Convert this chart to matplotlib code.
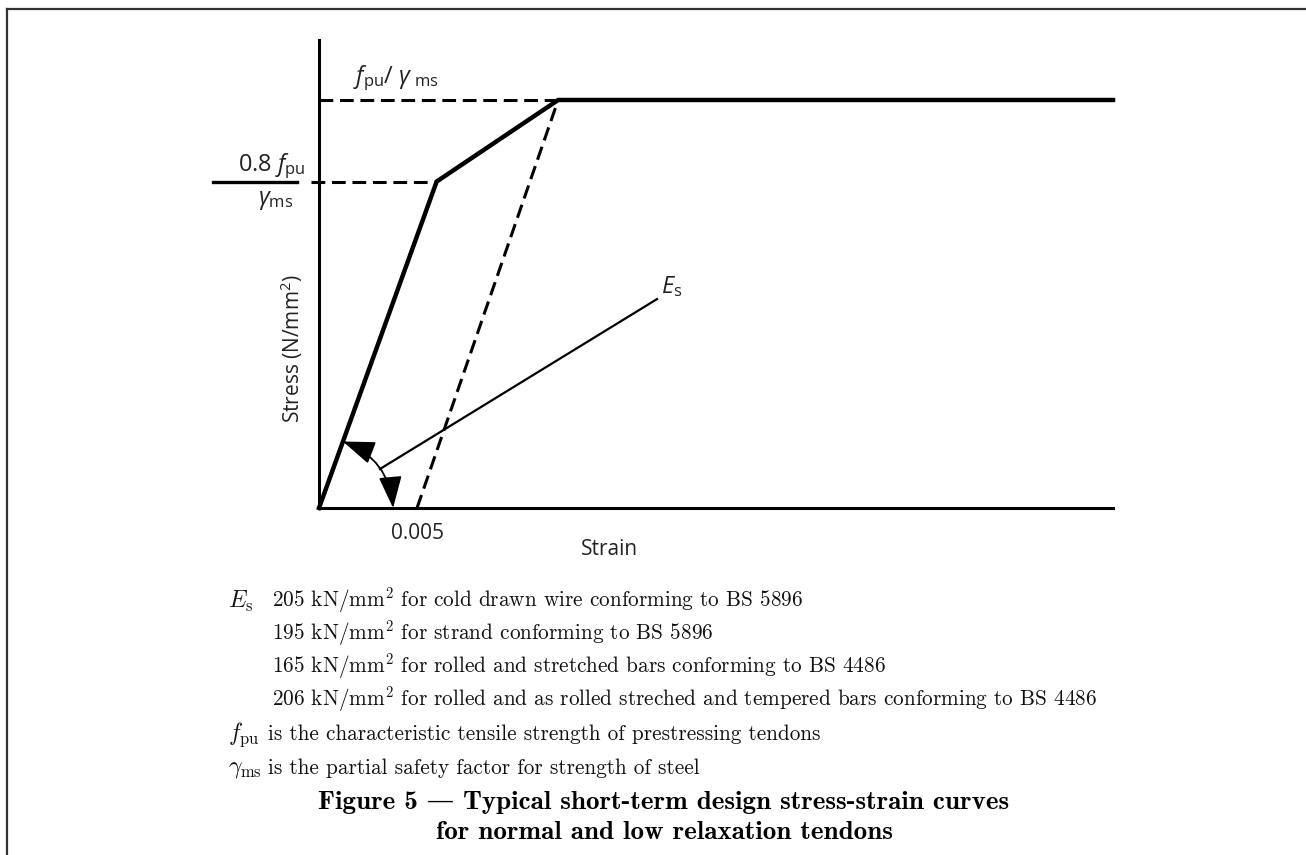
import matplotlib
matplotlib.use("Agg")
import matplotlib.pyplot as plt
from matplotlib.lines import Line2D

plt.rcParams['font.family'] = ['Open Sans', 'DejaVu Sans']
plt.rcParams['mathtext.fontset'] = 'custom'
plt.rcParams['mathtext.rm'] = 'Open Sans'
plt.rcParams['mathtext.it'] = 'Open Sans:italic'

# design curve (stress as a fraction of fpu/gamma_ms)
strain = [0.0, 0.006, 0.0122, 0.0405]
stress = [0.0, 0.8, 1.0, 1.0]
offset_strain = 0.005
knee_level = 0.8
yield_level = 1.0
# leader line for Es and the angle arrow
es_line_x = [0.00311, 0.01724]
es_line_y = [0.0956, 0.512]
arc_start = (0.00122, 0.163)
arc_end = (0.00378, 0.0)

es_notes = [
    r'205 kN/mm$^2$ for cold drawn wire conforming to BS 5896',
    r'195 kN/mm$^2$ for strand conforming to BS 5896',
    r'165 kN/mm$^2$ for rolled and stretched bars conforming to BS 4486',
    r'206 kN/mm$^2$ for rolled and as rolled streched and tempered bars conforming to BS 4486',
]
symbol_notes = [
    (r'$f_{\rm pu}$', 'is the characteristic tensile strength of prestressing tendons'),
    (r'$\gamma_{\rm ms}$', 'is the partial safety factor for strength of steel'),
]
title_lines = ['Figure 5 \u2014 Typical short-term design stress-strain curves',
               'for normal and low relaxation tendons']

W, H = 1306, 855
fig = plt.figure(figsize=(W / 100, H / 100), dpi=100)


def fx(x):
    return x / W


def fy(y):
    return 1 - y / H


ax = fig.add_axes([fx(319), fy(508), (1113 - 319) / W, (508 - 40) / H])
ax.set_xlim(0, 0.0405)
ax.set_ylim(0, 1.147)
for s in ['top', 'right']:
    ax.spines[s].set_visible(False)
for s in ['left', 'bottom']:
    ax.spines[s].set_linewidth(2.2)
ax.set_yticks([])
ax.set_xticks([offset_strain])
ax.set_xticklabels(['0.005'], fontsize=15, color='#222222')
ax.tick_params(axis='x', length=0, pad=11)
ax.set_xlabel('Strain', fontsize=15, color='#222222')
ax.xaxis.set_label_coords(0.366, -0.066)
ax.set_ylabel(r'Stress (N/mm$^2$)', fontsize=15, color='#222222')
ax.yaxis.set_label_coords(-0.0176, 0.342)

# main curve
ax.plot(strain, stress, color='black', lw=3.2, clip_on=False,
        solid_joinstyle='miter')
# offset line from 0.005
ax.plot([offset_strain, strain[2]], [0, yield_level], color='black', lw=2.2,
        dashes=(4.5, 2.2))
# level guides
ax.plot([0, strain[2]], [yield_level, yield_level], color='black', lw=2.2,
        dashes=(4.5, 2.2), clip_on=False)
ax.plot([-0.0004, strain[1]], [knee_level, knee_level], color='black', lw=2.2,
        dashes=(4.5, 2.2), clip_on=False)

# Es leader and angle arrow
ax.plot(es_line_x, es_line_y, color='black', lw=1.6)
ax.annotate('', xy=arc_end, xytext=arc_start,
            arrowprops=dict(arrowstyle='<|-|>,head_length=1.1,head_width=0.4',
                            connectionstyle='arc3,rad=-0.31', color='black',
                            lw=1.3, mutation_scale=18, shrinkA=0, shrinkB=0))
ax.text(es_line_x[1] + 0.0002, es_line_y[1] + 0.015, r'$E_{\rm s}$', fontsize=17,
        color='#222222', va='baseline', ha='left')

# labels on the stress axis
ax.text(0.00175, 1.042, r'$f_{\rm pu}$/ $\gamma_{\ \rm ms}$', fontsize=17,
        color='#222222', ha='left', va='baseline')
ax.plot([-0.0054, -0.0011], [knee_level, knee_level], color='black', lw=2.4,
        clip_on=False)
ax.annotate(r'0.8 $f_{\rm pu}$', xy=(-0.0007, knee_level), xytext=(0, 10),
            textcoords='offset pixels', fontsize=17, color='#222222',
            ha='right', va='baseline', annotation_clip=False)
ax.annotate(r'$\gamma_{\rm ms}$', xy=(-0.0022, knee_level), xytext=(0, -6),
            textcoords='offset pixels', fontsize=17, color='#222222',
            ha='center', va='top', annotation_clip=False)

# frame around the figure
fig.add_artist(Line2D([fx(7), 1], [fy(9), fy(9)], color='#333333', lw=1.6))
fig.add_artist(Line2D([fx(7), fx(7)], [fy(9), 0], color='#333333', lw=1.6))

# notes below the chart
serif = dict(family=['cmr10', 'DejaVu Serif'], math_fontfamily='cm',
             fontsize=15.3, color='#111111', va='center')
sym = dict(serif, fontsize=17)
fig.text(fx(228), fy(601), r'$E_{\rm s}$', **sym)
for i, line in enumerate(es_notes):
    fig.text(fx(272), fy(600 + 33 * i), line, **serif)
for i, (s, txt) in enumerate(symbol_notes):
    fig.text(fx(228), fy(735 + 34 * i), s, **sym)
    fig.text(fx(268), fy(734 + 34 * i), txt, **serif)
for i, line in enumerate(title_lines):
    fig.text(fx(664), fy(802 + 30 * i), line, family=['cmb10', 'DejaVu Serif'],
             fontsize=19.5, color='black', ha='center', va='center')

fig.savefig('out.png', dpi=100)
